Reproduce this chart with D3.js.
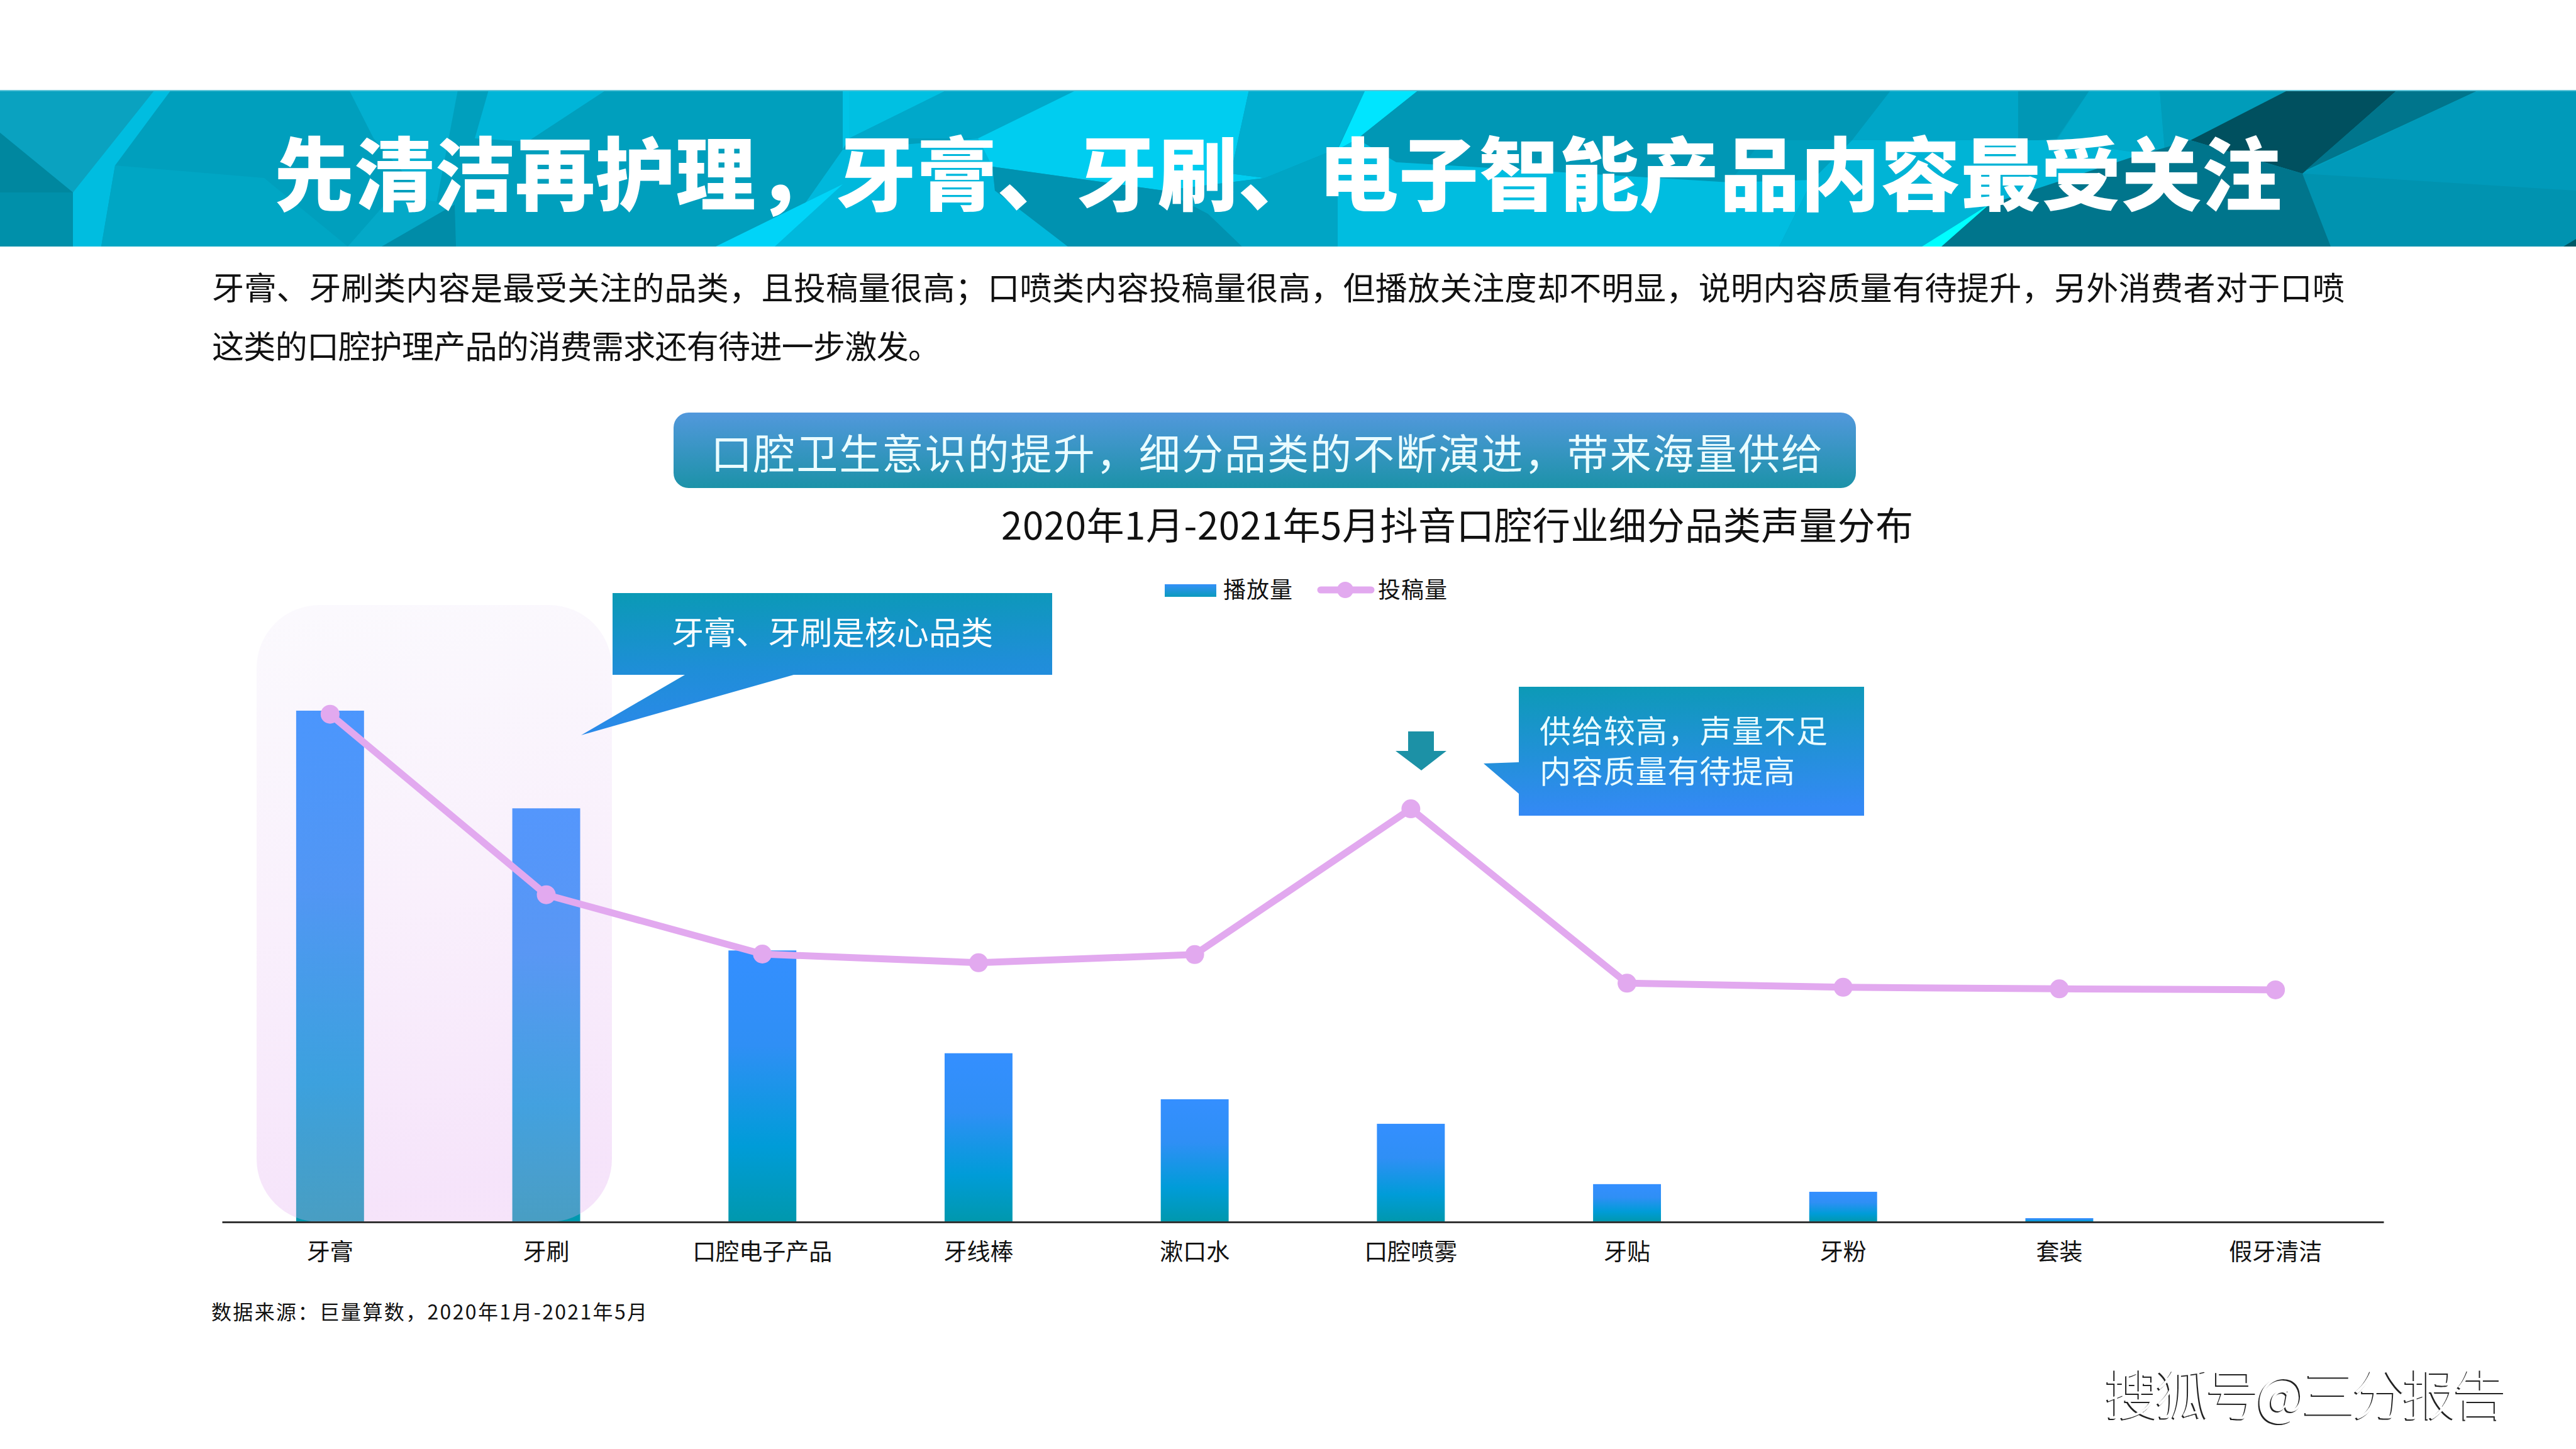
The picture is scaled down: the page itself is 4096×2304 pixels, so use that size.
<!DOCTYPE html>
<html lang="zh">
<head>
<meta charset="utf-8">
<script src="https://cdnjs.cloudflare.com/ajax/libs/d3/7.8.5/d3.min.js"></script>
<style>
html,body{margin:0;padding:0;background:#fff;}
svg{display:block;}
text{font-family:"Noto Sans CJK SC","Noto Sans",sans-serif;}
</style>
</head>
<body>
<svg id="c" width="4096" height="2304" viewBox="0 0 4096 2304"></svg>
<script>
const categories = ["牙膏","牙刷","口腔电子产品","牙线棒","漱口水","口腔喷雾","牙贴","牙粉","套装","假牙清洁"];
const playVolume = [100,80.9,53.1,33.0,24.0,19.2,7.4,5.9,0.74,0.12];
const postVolume = [99.3,64.0,52.4,50.7,52.3,80.8,46.7,45.9,45.6,45.4];
const seriesNames = ["播放量","投稿量"];
const headline = "先清洁再护理，牙膏、牙刷、电子智能产品内容最受关注";
const bodyLines = [
  "牙膏、牙刷类内容是最受关注的品类，且投稿量很高；口喷类内容投稿量很高，但播放关注度却不明显，说明内容质量有待提升，另外消费者对于口喷",
  "这类的口腔护理产品的消费需求还有待进一步激发。"
];
const pillText = "口腔卫生意识的提升，细分品类的不断演进，带来海量供给";
const chartTitle = "2020年1月-2021年5月抖音口腔行业细分品类声量分布";
const noteOne = "牙膏、牙刷是核心品类";
const noteTwo = ["供给较高，声量不足","内容质量有待提高"];
const sourceText = "数据来源：巨量算数，2020年1月-2021年5月";
const watermark = "搜狐号@三分报告";

// decorative low-poly banner facets (banner-local px)
const facets = [
  ["#0aa2c0",[[0,0],[268,0],[116,163],[0,68]]],
  ["#00879f",[[0,68],[116,163],[0,163]]],
  ["#0090aa",[[0,163],[116,163],[116,249],[0,249]]],
  ["#00bde0",[[246,0],[272,0],[183,120],[161,249],[116,249],[116,163]]],
  ["#00a6c4",[[183,120],[420,140],[553,249],[161,249]]],
  ["#03afd0",[[555,0],[728,0],[692,190],[594,77]]],
  ["#00b5d8",[[777,0],[964,0],[839,82],[755,77]]],
  ["#04a9c8",[[553,249],[625,167],[723,182],[607,249]]],
  ["#008ca8",[[607,249],[723,182],[725,249]]],
  ["#00c3e6",[[1340,0],[1506,0],[1350,77],[1340,95]]],
  ["#00c0e2",[[1350,0],[1506,0],[1350,77]]],
  ["#00a8ca",[[1506,0],[1712,0],[1555,77],[1350,77]]],
  ["#00b8dc",[[1340,95],[1555,77],[1578,122],[1582,160],[1698,249],[1232,249]]],
  ["#00d4f8",[[1138,249],[1340,150],[1232,249]]],
  ["#00cdf0",[[1712,0],[1986,0],[1957,133],[2011,140],[1850,160],[1578,122],[1555,77]]],
  ["#0092b0",[[1578,122],[1850,160],[1921,197],[1975,249],[1698,249],[1582,160]]],
  ["#00aed0",[[1986,0],[2171,0],[2127,93],[2011,140],[1957,133]]],
  ["#00a5c5",[[2011,140],[2127,93],[2127,249],[1975,249],[1921,197],[1850,160]]],
  ["#00e5ff",[[2171,0],[2256,0],[2158,78],[2127,95]]],
  ["#0097b5",[[2256,0],[3007,0],[2945,80],[2802,80],[2750,147],[2220,115],[2158,78]]],
  ["#00bde0",[[2127,95],[2158,78],[2220,115],[2750,147],[2882,143],[2829,249],[2127,249]]],
  ["#00a6c8",[[3007,0],[3209,0],[3209,80],[2945,80]]],
  ["#0097b5",[[3209,0],[3323,0],[3270,77],[3209,83]]],
  ["#00a8c8",[[3323,0],[3434,0],[3443,107],[3270,80]]],
  ["#00b4d6",[[2882,143],[2945,80],[3209,80],[3270,80],[3443,107],[3390,107],[3163,182],[3056,249],[2829,249]]],
  ["#009cba",[[3434,0],[3639,0],[3483,80],[3390,107],[3443,107]]],
  ["#00505f",[[3639,0],[3812,0],[3661,133],[3483,80]]],
  ["#00758c",[[3812,0],[3942,0],[3666,128]]],
  ["#009aba",[[3942,0],[4096,0],[4096,249],[3706,249],[3661,133]]],
  ["#0093b0",[[3661,133],[4096,160],[4096,249],[3706,249]]],
  ["#00758c",[[3390,107],[3483,80],[3661,133],[3706,249],[3083,249],[3163,182]]],
  ["#00ffff",[[3056,249],[3163,182],[3087,249]]],
  ["#005866",[[4096,237],[4076,249],[4096,249]]]
];

const svg = d3.select("#c");
const defs = svg.append("defs");
function grad(id,stops,x2,y2){
  const g = defs.append("linearGradient").attr("id",id)
    .attr("x1",0).attr("y1",0).attr("x2",x2||0).attr("y2",y2===undefined?1:y2);
  stops.forEach(s=>g.append("stop").attr("offset",s[0]).attr("stop-color",s[1]).attr("stop-opacity",s[2]===undefined?1:s[2]));
}
grad("barG",[[0,"#348fff"],[0.35,"#2f8ff5"],[0.72,"#009cd8"],[1,"#0098ad"]]);
grad("legG",[[0,"#3490f8"],[1,"#0b9bbd"]]);
grad("pillG",[[0,"#5298dc"],[1,"#1c92a8"]]);
grad("glowG",[[0,"#d8c8f0",0.1],[0.5,"#e2b4f0",0.2],[1,"#e2aaf0",0.32]],0.12,1);
grad("noteG1",[[0,"#0a9ab5"],[0.56,"#1f8ed8"],[1,"#2b89ea"]],0.1,1);
grad("noteG2",[[0,"#0c9ab6"],[1,"#3489f5"]],0.08,1);

// banner
const banner = svg.append("g").attr("transform","translate(0,143)");
banner.append("rect").attr("width",4096).attr("height",249).attr("fill","#009fbd");
banner.selectAll("polygon").data(facets).join("polygon")
  .attr("points",d=>d[1].map(p=>p.join(",")).join(" "))
  .attr("fill",d=>d[0]);
banner.append("rect").attr("width",4096).attr("height",2).attr("fill","#5cc4d8");

function label(txt,x,y,size,len,opt){
  opt = opt||{};
  return svg.append("text").attr("x",x).attr("y",y)
    .attr("text-anchor",opt.anchor||"start").attr("dominant-baseline","central")
    .attr("font-size",size).attr("font-weight",opt.weight||400)
    .attr("fill",opt.fill||"#000")
    .attr("textLength",len||null).attr("lengthAdjust",len?"spacing":null)
    .text(txt);
}
label(headline,436,270,127,3192,{weight:900,fill:"#fff"});
label(bodyLines[0],337,455,51,3391,{fill:"#111"});
label(bodyLines[1],337,548,51,1158,{fill:"#111"});

// pill and chart title
svg.append("rect").attr("x",1071).attr("y",656).attr("width",1880).attr("height",120).attr("rx",24).attr("fill","url(#pillG)");
label(pillText,1130,717,66,1768,{fill:"#eafcff",weight:400});
label(chartTitle,1592,831,60,1450,{fill:"#111"});

// scales
const baseY = 1943, topY = 1130;
const x = d3.scaleBand().domain(categories).range([353,3790]).paddingInner(0.686).paddingOuter(0.343);
const y = d3.scaleLinear().domain([0,100]).range([baseY,topY]);
const yPost = d3.scaleLinear().domain([0,100]).range([baseY,topY]);
const cx = d => x(d)+x.bandwidth()/2;

// bars
svg.append("g").selectAll("rect").data(categories).join("rect")
  .attr("x",d=>x(d)).attr("width",x.bandwidth())
  .attr("y",(d,i)=>y(playVolume[i]))
  .attr("height",(d,i)=>baseY-y(playVolume[i]))
  .attr("fill","url(#barG)");

// highlight panel over first two bars
const panelL=408,panelR=973,panelT=962,r=100;
svg.append("rect").attr("x",panelL).attr("y",panelT).attr("width",panelR-panelL).attr("height",baseY-panelT)
  .attr("rx",r).attr("fill","url(#glowG)");

// axis
const axis = svg.append("g").attr("transform",`translate(0,${baseY})`)
  .call(d3.axisBottom(x).tickSize(0).tickPadding(35));
axis.select(".domain").attr("stroke","#333").attr("stroke-width",3);
axis.selectAll("text").attr("font-size",37).attr("fill","#111").attr("font-family",'"Noto Sans CJK SC"');

// line
const line = d3.line().x((d,i)=>cx(categories[i])).y(d=>yPost(d));
svg.append("path").datum(postVolume).attr("d",line).attr("fill","none")
  .attr("stroke","#e2a9ef").attr("stroke-width",11).attr("stroke-linejoin","round");
svg.append("g").selectAll("circle").data(postVolume).join("circle")
  .attr("cx",(d,i)=>cx(categories[i])).attr("cy",d=>yPost(d)).attr("r",15).attr("fill","#e2a9ef");

// legend
svg.append("rect").attr("x",1852).attr("y",929).attr("width",82).attr("height",20).attr("fill","url(#legG)");
label(seriesNames[0],1945,935,36,110,{fill:"#111"});
svg.append("line").attr("x1",2100).attr("x2",2180).attr("y1",938).attr("y2",938)
  .attr("stroke","#e2a9ef").attr("stroke-width",11).attr("stroke-linecap","round");
svg.append("circle").attr("cx",2139).attr("cy",938).attr("r",13).attr("fill","#e2a9ef");
label(seriesNames[1],2191,935,36,110,{fill:"#111"});

// callouts
svg.append("path").attr("d","M974,943H1673V1073H1262L924,1169L1089,1073H974Z").attr("fill","url(#noteG1)");
label(noteOne,1068,1003,51,511,{fill:"#fff",weight:400});
svg.append("path").attr("d","M2415,1092H2964V1297H2415V1262L2359,1214L2415,1212Z").attr("fill","url(#noteG2)");
label(noteTwo[0],2448,1159,50,458,{fill:"#eafcff",weight:400});
label(noteTwo[1],2448,1223,50,406,{fill:"#eafcff",weight:400});
svg.append("path").attr("d","M2239,1163H2280V1194H2300L2260,1225L2219,1194H2239Z").attr("fill","#1c91a6");

// source & watermark
label(sourceText,336,2084,32,693,{fill:"#111"});
label(watermark,3347,2212,86,640,{fill:"#fff",weight:300}).style("filter","drop-shadow(-2px 2px 0 #222)");
</script>
</body>
</html>
